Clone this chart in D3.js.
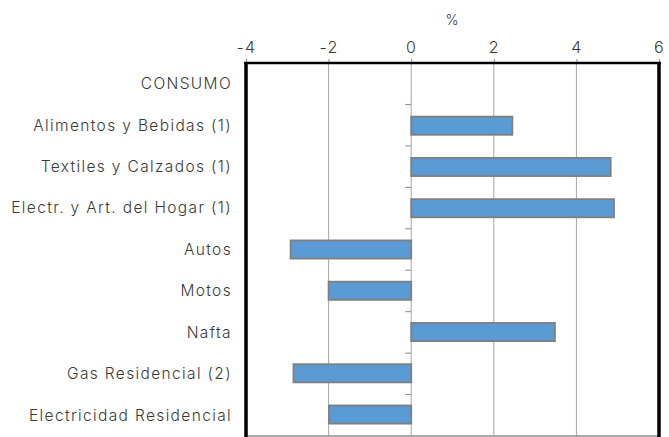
<!DOCTYPE html>
<html><head><meta charset="utf-8">
<script src="https://cdn.jsdelivr.net/npm/d3@7"></script>
<style>body{margin:0;background:#fff;} text{font-family:Inter,sans-serif;font-weight:300;fill:#3a3a3a;}</style>
</head><body><svg id="c" width="669" height="437"></svg>
<script>
const categories = ["CONSUMO","Alimentos y Bebidas (1)","Textiles y Calzados (1)","Electr. y Art. del Hogar (1)","Autos","Motos","Nafta","Gas Residencial (2)","Electricidad Residencial"];
const values = [null, 2.45, 4.83, 4.91, -2.92, -2.0, 3.48, -2.85, -1.99];
const xTicks = [-4,-2,0,2,4,6];
const unitLabel = "%";

const svg = d3.select("#c");
const m = {l:246, r:659, t:63, b:436};
const x = d3.scaleLinear().domain([-4,6]).range([m.l, m.r]);
const y = d3.scaleBand().domain(categories).range([m.t, m.b]).paddingInner(0.56).paddingOuter(0.3);
const yb = d3.scaleBand().domain(categories).range([m.t, m.b]);

const fs = 15.5;
const probeText = "Electricidad Residencial";
const probe = svg.append("text").attr("font-size",fs).text(probeText);
const w = probe.node().getComputedTextLength();
probe.remove();
const ls = Math.max(0, (203 - w) / probeText.length);

svg.append("g").selectAll("line").data(xTicks.filter(d=>d>-4&&d<6)).join("line")
  .attr("x1",d=>x(d)).attr("x2",d=>x(d)).attr("y1",m.t).attr("y2",m.b)
  .attr("stroke","#a6a6a6").attr("stroke-width",1);

svg.append("line").attr("x1",m.l).attr("x2",m.r).attr("y1",m.b).attr("y2",m.b).attr("stroke","#8c8c8c").attr("stroke-width",1.5);

svg.append("g").selectAll("line").data(categories.slice(1)).join("line")
  .attr("x1",x(0)-6).attr("x2",x(0)).attr("y1",d=>yb(d)).attr("y2",d=>yb(d))
  .attr("stroke","#8c8c8c").attr("stroke-width",1);

svg.append("g").selectAll("rect").data(categories.map((c,i)=>({c,v:values[i]})).filter(d=>d.v!==null)).join("rect")
  .attr("x",d=>x(Math.min(0,d.v))).attr("width",d=>Math.abs(x(d.v)-x(0)))
  .attr("y",d=>y(d.c)).attr("height",y.bandwidth())
  .attr("fill","#5b9bd5").attr("stroke","#7f7f7f").attr("stroke-width",1.8);

const ax = svg.append("g").attr("transform",`translate(0,${m.t})`)
  .call(d3.axisTop(x).tickValues(xTicks).tickSize(4).tickFormat(d=>String(d)));
ax.select(".domain").remove();
ax.selectAll(".tick line").attr("stroke","#8c8c8c");
ax.selectAll(".tick text").attr("font-size",16).attr("dy","-0.2em").style("font-family","Inter").style("font-weight",300).attr("fill","#3a3a3a").style("letter-spacing",ls+"px");

svg.append("line").attr("x1",m.l-2).attr("x2",m.r+2).attr("y1",m.t).attr("y2",m.t).attr("stroke","#000").attr("stroke-width",2.6);
svg.append("line").attr("x1",m.l).attr("x2",m.l).attr("y1",m.t-1).attr("y2",437).attr("stroke","#000").attr("stroke-width",3.5);
svg.append("line").attr("x1",m.r).attr("x2",m.r).attr("y1",m.t-1).attr("y2",437).attr("stroke","#000").attr("stroke-width",3.5);

svg.append("g").selectAll("text").data(categories).join("text")
  .attr("x",232).attr("y",d=>yb(d)+yb.bandwidth()/2).attr("dy","0.35em")
  .attr("text-anchor","end").attr("font-size",fs).style("letter-spacing",ls+"px").text(d=>d);

svg.append("text").attr("x",452).attr("y",20).attr("dy","0.35em").attr("text-anchor","middle").attr("font-size",14).text(unitLabel);
</script></body></html>
